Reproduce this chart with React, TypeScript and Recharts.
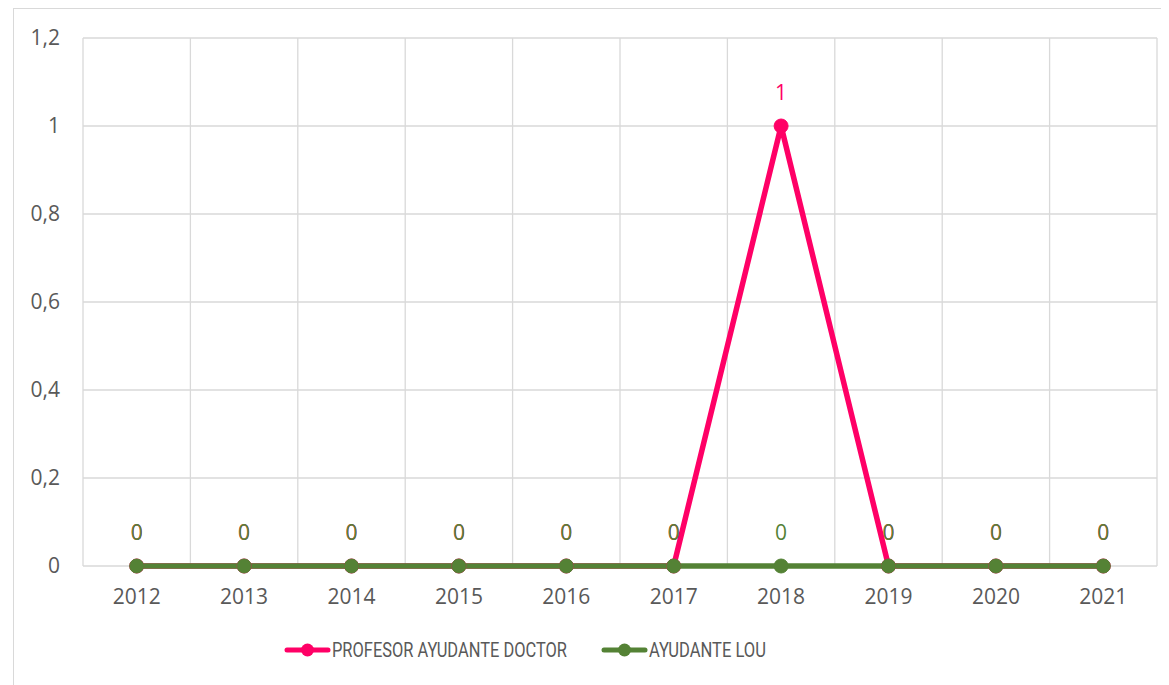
import { CartesianGrid, LineChart, Line, XAxis, YAxis, LabelList } from "recharts";

const years = ["2012", "2013", "2014", "2015", "2016", "2017", "2018", "2019", "2020", "2021"];
const profesorAyudanteDoctor = [0, 0, 0, 0, 0, 0, 1, 0, 0, 0];
const ayudanteLou = [0, 0, 0, 0, 0, 0, 0, 0, 0, 0];
const yTicks = [0, 0.2, 0.4, 0.6, 0.8, 1, 1.2];

const data = years.map((year, i) => ({
  year,
  pad: profesorAyudanteDoctor[i],
  lou: ayudanteLou[i],
}));

const PINK = "#ff0066";
const GREEN = "#548235";
const FONT = "'Open Sans', 'Liberation Sans', sans-serif";

const fmt = (v: number) => String(v).replace(".", ",");

// legend drawn by hand, text squeezed to mimic the narrow original font
const legendItems = [
  { label: "PROFESOR AYUDANTE DOCTOR", color: PINK, x: 0, textWidth: 235 },
  { label: "AYUDANTE LOU", color: GREEN, x: 317, textWidth: 117 },
];

const CustomLegend = () => (
  <svg
    width={700}
    height={34}
    style={{ position: "absolute", left: 275, top: 625, overflow: "visible" }}
  >
    {legendItems.map((it) => (
      <g key={it.label} transform={`translate(${it.x},0)`}>
        <line x1={4} y1={17} x2={45} y2={17} stroke={it.color} strokeWidth={5} strokeLinecap="round" />
        <circle cx={24.5} cy={17} r={6.5} fill={it.color} />
        <text
          x={49}
          y={24}
          fill="#595959"
          fontSize={20}
          fontFamily="Roboto, sans-serif"
          textLength={it.textWidth}
          lengthAdjust="spacingAndGlyphs"
        >
          {it.label}
        </text>
      </g>
    ))}
  </svg>
);

export default function App() {
  return (
    <div style={{ position: "relative", width: 1161, height: 677 }}>
      <div
        style={{
          position: "absolute",
          left: 5,
          top: 0,
          width: 1200,
          height: 700,
          borderLeft: "1px solid #d9d9d9",
          borderTop: "1px solid #d9d9d9",
        }}
      />
      <LineChart
        width={1161}
        height={677}
        data={data}
        margin={{ top: 30, right: 12, left: 15, bottom: 89 }}
        style={{ position: "absolute", left: 0, top: 0 }}
      >
        <CartesianGrid
          stroke="#d9d9d9"
          strokeWidth={1.3}
          verticalCoordinatesGenerator={({ offset }: any) =>
            years.map((_, i) => offset.left + (i * offset.width) / years.length).concat(offset.left + offset.width)
          }
        />
        <XAxis
          dataKey="year"
          scale="band"
          axisLine={false}
          tickLine={false}
          tickSize={0}
          tickMargin={23}
          height={30}
          tick={{ fill: "#595959", fontSize: 21, fontFamily: FONT }}
        />
        <YAxis
          domain={[0, 1.2]}
          ticks={yTicks}
          width={60}
          axisLine={false}
          tickLine={false}
          tickSize={0}
          tickMargin={23}
          tickFormatter={fmt}
          tick={{ fill: "#595959", fontSize: 21, fontFamily: FONT }}
        />
        <Line
          dataKey="pad"
          stroke={PINK}
          strokeWidth={5.5}
          dot={{ r: 7, fill: PINK, stroke: PINK, strokeWidth: 1 }}
          isAnimationActive={false}
        >
          <LabelList dataKey="pad" position="top" offset={26} fill={PINK} fontSize={21} fontFamily={FONT} />
        </Line>
        <Line
          dataKey="lou"
          stroke={GREEN}
          strokeWidth={5.5}
          dot={{ r: 7, fill: GREEN, stroke: GREEN, strokeWidth: 1 }}
          isAnimationActive={false}
        >
          <LabelList dataKey="lou" position="top" offset={26} fill={GREEN} fontSize={21} fontFamily={FONT} />
        </Line>
      </LineChart>
      <CustomLegend />
    </div>
  );
}
